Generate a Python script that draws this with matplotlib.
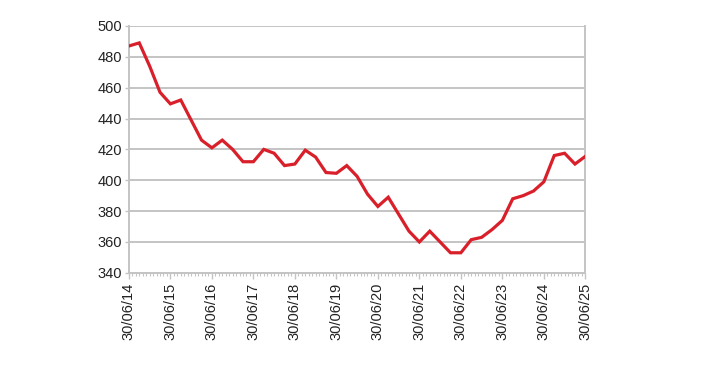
import numpy as np
import matplotlib
matplotlib.use("Agg")
import matplotlib.pyplot as plt
from matplotlib.ticker import MultipleLocator

plt.rcParams['font.family'] = ['Liberation Sans', 'DejaVu Sans']

# quarterly values, 30/06/14 .. 30/06/25
values = [487, 489, 474, 457, 449.5, 452, 439, 426, 421, 426, 420, 412, 412,
          420, 417.5, 409.5, 410.5, 419.5, 415, 405, 404.5, 409.5, 402.5,
          391, 383, 389, 378, 367, 360, 367, 360, 353, 353, 361.5, 363, 368,
          374, 388, 390, 393, 399, 416, 417.5, 410.5, 415.5]
year_labels = ['30/06/%02d' % y for y in range(14, 26)]

grid_col = '#c4c4c4'

fig = plt.figure(figsize=(7.2, 3.87), dpi=100)
ax = fig.add_axes([0.179, 0.295, 0.634, 0.638])

x = np.arange(len(values))
ax.plot(x, values, color='#d9202a', lw=2.3, solid_joinstyle='miter', zorder=3)

ax.set_xlim(0, len(values) - 1)
ax.set_ylim(340, 500)
ax.set_yticks(np.arange(340, 501, 20))
ax.set_xticks(np.arange(0, len(values), 4))
ax.set_xticklabels(year_labels, rotation=90)
ax.xaxis.set_minor_locator(MultipleLocator(1 / 3))

ax.grid(axis='y', color=grid_col, lw=1.4)
ax.set_axisbelow(True)
for s in ['left', 'right', 'bottom']:
    ax.spines[s].set_color(grid_col)
    ax.spines[s].set_linewidth(1.4)
ax.spines['top'].set_visible(False)

ax.tick_params(axis='y', length=3, width=1, color=grid_col, labelsize=10.5, pad=2, labelcolor='#222222')
ax.tick_params(axis='x', which='major', length=4, width=1, color=grid_col, labelsize=10.5, pad=3, labelcolor='#222222')
ax.tick_params(axis='x', which='minor', length=2.5, width=0.8, color=grid_col)

fig.savefig('out.png', dpi=100)
